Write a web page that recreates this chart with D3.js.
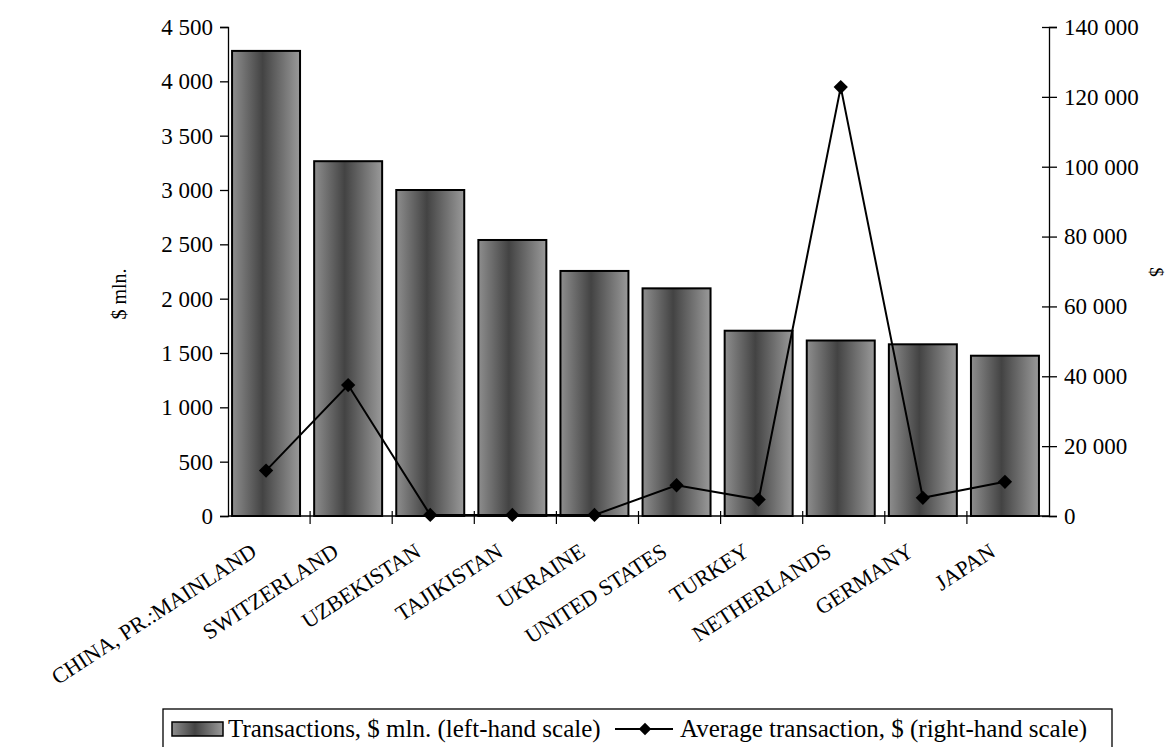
<!DOCTYPE html>
<html><head><meta charset="utf-8">
<script src="https://cdn.jsdelivr.net/npm/d3@7"></script>
<style>
body{margin:0;background:#fff;}
text{font-family:"Liberation Serif","Times New Roman",serif;fill:#000;}
</style></head>
<body><svg id="c" width="1167" height="747"></svg>
<script>
const categories = ["CHINA, PR.:MAINLAND","SWITZERLAND","UZBEKISTAN","TAJIKISTAN","UKRAINE","UNITED STATES","TURKEY","NETHERLANDS","GERMANY","JAPAN"];
const transactions = [4280, 3265, 3000, 2540, 2255, 2095, 1705, 1615, 1580, 1475];
const avgTransaction = [13000, 37500, 300, 300, 300, 8800, 4700, 122800, 5200, 9800];
const leftTicks = [0,500,1000,1500,2000,2500,3000,3500,4000,4500];
const rightTicks = [0,20000,40000,60000,80000,100000,120000,140000];
const legendLabels = ["Transactions, $ mln. (left-hand scale)","Average transaction, $ (right-hand scale)"];

const svg = d3.select("#c");
const L = 228, R = 1049, T = 27, B = 516;
const fmt = v => d3.format(",")(v).replace(/,/g, " ");

const x = d3.scaleBand().domain(categories).range([L-3, R-3]).paddingInner(0.172).paddingOuter(0.086);
const xc = d3.scaleBand().domain(categories).range([L, R]);
const yL = d3.scaleLinear().domain([0, 4500]).range([B, T]);
const yR = d3.scaleLinear().domain([0, 140000]).range([B, T]);

const defs = svg.append("defs");
const g = defs.append("linearGradient").attr("id","bg").attr("x1","0").attr("x2","1").attr("y1","0").attr("y2","0");
g.append("stop").attr("offset","0").attr("stop-color","#8e8e8e");
g.append("stop").attr("offset","0.45").attr("stop-color","#434343");
g.append("stop").attr("offset","1").attr("stop-color","#9a9a9a");

// bars
svg.append("g").selectAll("rect").data(categories).join("rect")
  .attr("x", d => x(d)).attr("width", x.bandwidth())
  .attr("y", (d,i) => yL(transactions[i])).attr("height", (d,i) => B - yL(transactions[i]))
  .attr("fill","url(#bg)").attr("stroke","#000").attr("stroke-width",2);

// left axis
const axL = svg.append("g").attr("transform",`translate(${L},0)`)
  .call(d3.axisLeft(yL).tickValues(leftTicks).tickFormat(fmt).tickSize(8).tickPadding(7));
axL.select(".domain").attr("stroke","#000").attr("stroke-width",1.3);
axL.selectAll(".tick line").attr("stroke","#000").attr("stroke-width",1.3);
axL.selectAll("text").attr("font-size",23);

// right axis
const axR = svg.append("g").attr("transform",`translate(${R},0)`)
  .call(d3.axisRight(yR).tickValues(rightTicks).tickFormat(fmt).tickSize(8).tickPadding(7));
axR.select(".domain").attr("stroke","#000").attr("stroke-width",1.3);
axR.selectAll(".tick line").attr("stroke","#000").attr("stroke-width",1.3).attr("x1",-7);
axR.selectAll("text").attr("font-size",23);

// bottom axis baseline and ticks
svg.append("line").attr("x1",L).attr("x2",R).attr("y1",B).attr("y2",B).attr("stroke","#000").attr("stroke-width",1.5);
svg.append("g").selectAll("line").data(categories.slice(1)).join("line")
  .attr("x1", d => xc(d)).attr("x2", d => xc(d)).attr("y1", B-5).attr("y2", B+8)
  .attr("stroke","#000").attr("stroke-width",1.2);
svg.append("g").selectAll("text").data(categories).join("text")
  .attr("transform", d => `translate(${xc(d)+xc.bandwidth()/2-11},${B+39}) rotate(-33)`)
  .attr("text-anchor","end").attr("font-size",22).text(d => d);

// line
const cx = d => x(d) + x.bandwidth()/2;
const line = d3.line().x((d,i) => cx(categories[i])).y(d => yR(d));
svg.append("path").datum(avgTransaction).attr("d", line).attr("fill","none").attr("stroke","#000").attr("stroke-width",2);
svg.append("g").selectAll("path").data(avgTransaction).join("path")
  .attr("d", d3.symbol().type(d3.symbolDiamond2).size(130))
  .attr("transform", (d,i) => `translate(${cx(categories[i])},${yR(d)})`)
  .attr("fill","#000");

// axis titles
svg.append("text").attr("transform","translate(126,294) rotate(-90)").attr("text-anchor","middle").attr("font-size",20).text("$ mln.");
svg.append("text").attr("transform","translate(1150,272) rotate(90)").attr("text-anchor","middle").attr("font-size",19).text("$");

// legend
const lg = svg.append("g");
lg.append("rect").attr("x",163).attr("y",709).attr("width",949).attr("height",40).attr("fill","#fff").attr("stroke","#000").attr("stroke-width",1.3);
lg.append("rect").attr("x",172).attr("y",722).attr("width",51).attr("height",14).attr("fill","url(#bg)").attr("stroke","#000").attr("stroke-width",1.5);
lg.append("text").attr("x",228).attr("y",737).attr("font-size",25).text(legendLabels[0]);
lg.append("line").attr("x1",615).attr("x2",673).attr("y1",729).attr("y2",729).attr("stroke","#000").attr("stroke-width",2);
lg.append("path").attr("d", d3.symbol().type(d3.symbolDiamond2).size(100)).attr("transform","translate(645,729)").attr("fill","#000");
lg.append("text").attr("x",680).attr("y",737).attr("font-size",25).text(legendLabels[1]);
</script></body></html>
